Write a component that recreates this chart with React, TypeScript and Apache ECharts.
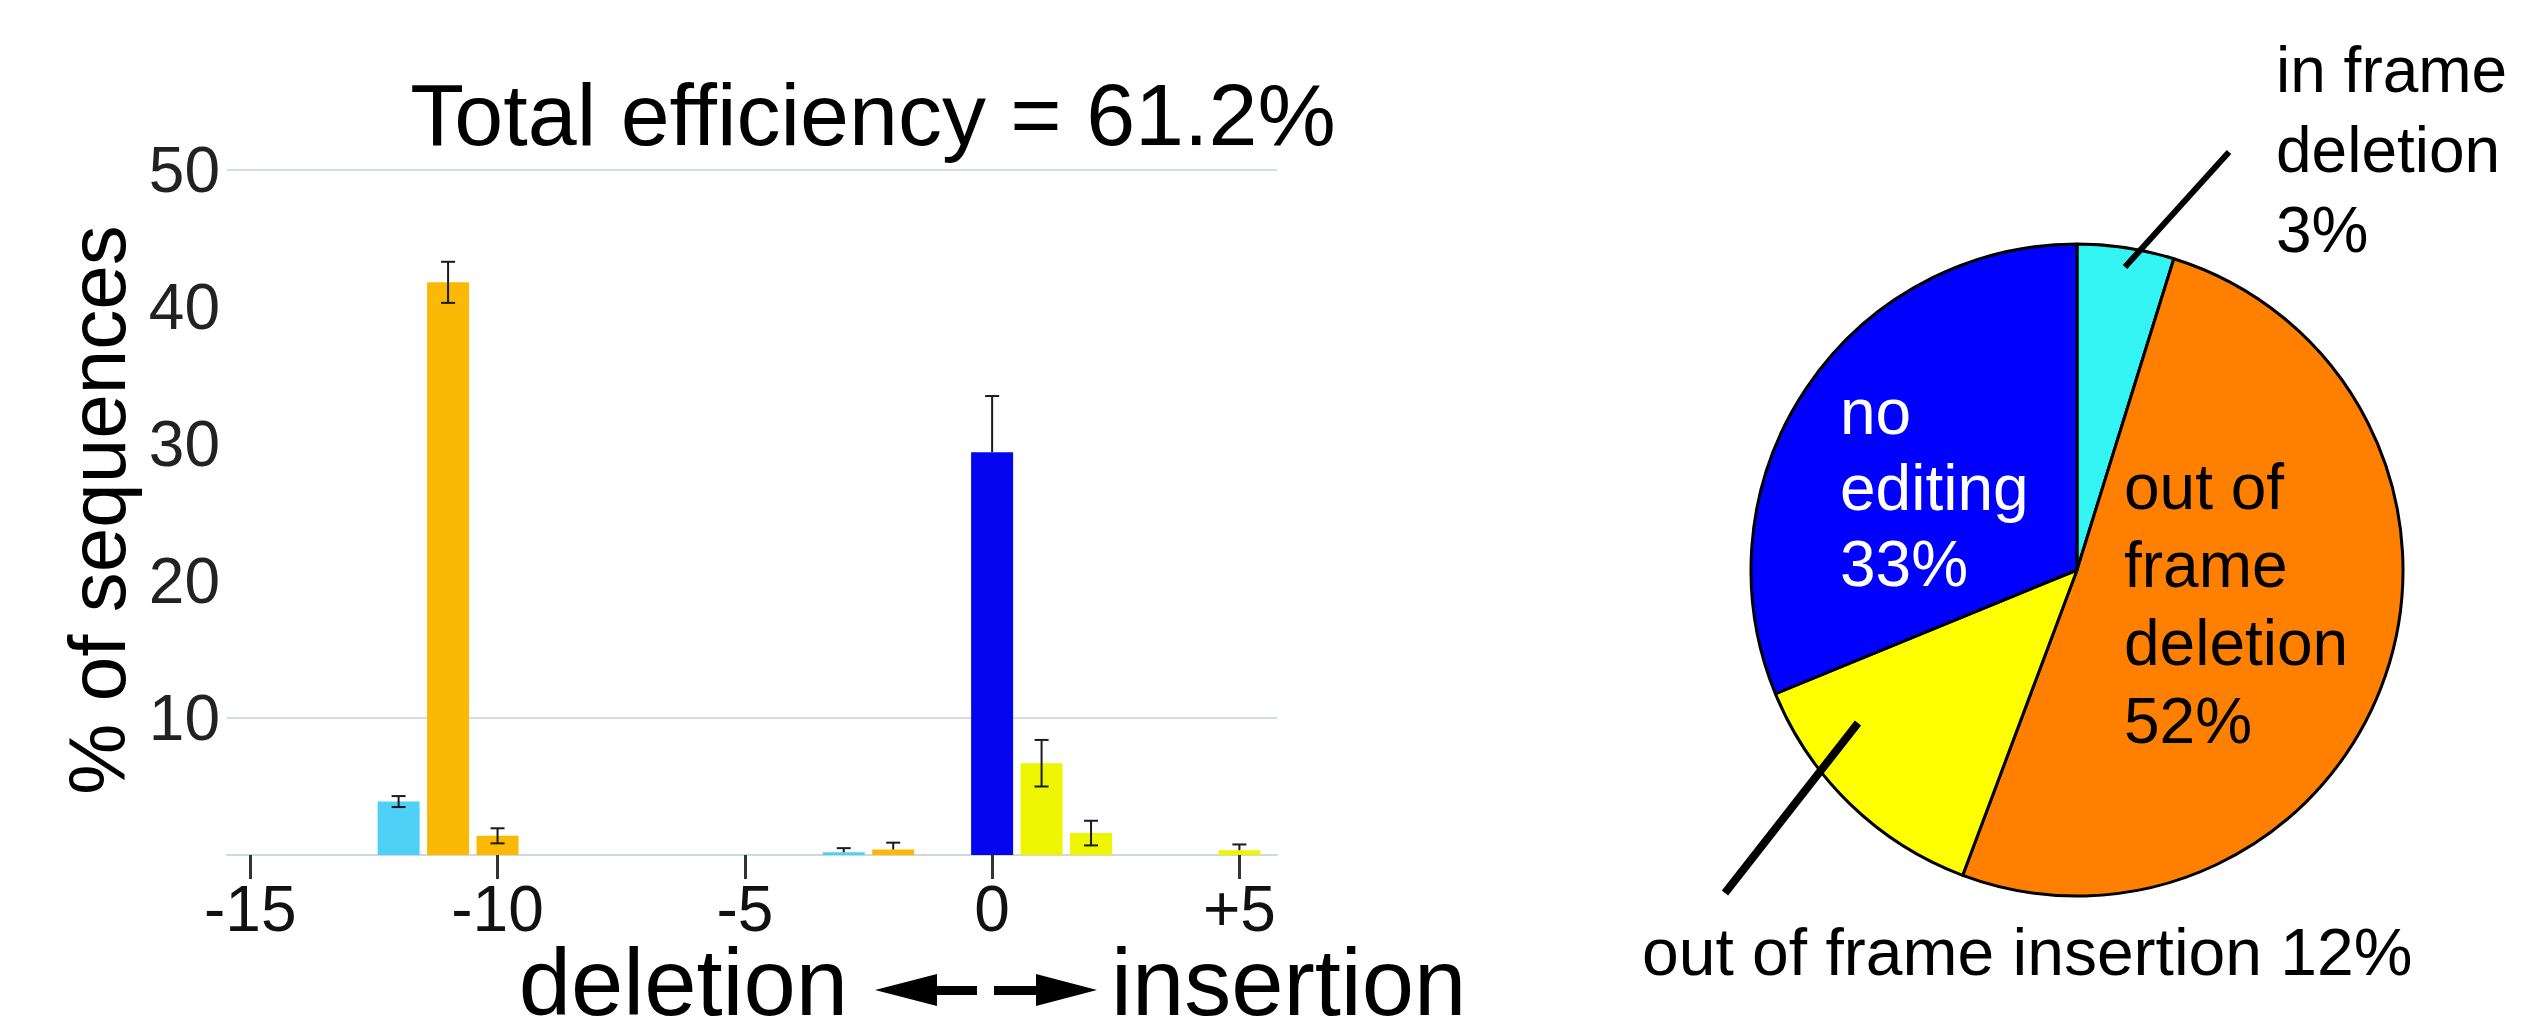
import React, { useEffect, useRef } from "react";
import * as echarts from "echarts";

// ---- data ----
const positions = [-12, -11, -10, -3, -2, 0, 1, 2, 5];
const percents = [3.9, 41.8, 1.4, 0.2, 0.4, 29.4, 6.7, 1.6, 0.35];
const errUp = [0.4, 1.5, 0.55, 0.3, 0.5, 4.1, 1.7, 0.9, 0.42];
const errDown = [0.4, 1.5, 0.55, 0, 0, 0, 1.7, 0.9, 0];
const barClass = ["inframe", "outdel", "outdel", "inframe", "outdel", "none", "ins", "ins", "ins"];
const xTicks = [-15, -10, -5, 0, 5];
const yTicks = [10, 20, 30, 40, 50];
const gridValues = [10, 50];

const pieNames = ["in frame deletion", "out of frame deletion", "out of frame insertion", "no editing"];
const pieShares = [4.8, 50.9, 13.1, 31.2];
const pieLabels = ["3%", "52%", "12%", "33%"];

const titleText = "Total efficiency = 61.2%";
const yName = "% of sequences";

const FONT = "'Liberation Sans', Arial, Helvetica, sans-serif";
const barColors: Record<string, string> = {
  inframe: "#4fd0f6",
  outdel: "#fbb905",
  ins: "#edf500",
  none: "#0505ef",
};
const pieColors = ["#33f3f3", "#ff8000", "#ffff00", "#0000ff"];

function txt(text: string, x: number, y: number, size: number, extra: any = {}, styleExtra: any = {}) {
  return {
    type: "text",
    x,
    y,
    z: 100,
    silent: true,
    ...extra,
    style: {
      text,
      fontSize: size,
      fontFamily: FONT,
      fill: "#000",
      align: "left",
      verticalAlign: "middle",
      ...styleExtra,
    },
  };
}

function buildOption() {
  const errorRender = (params: any, api: any) => {
    const x = api.value(0);
    const v = api.value(1);
    const up = api.value(2);
    const dn = api.value(3);
    const top = api.coord([x, v + up]);
    const bot = api.coord([x, v - dn]);
    const cap = 7;
    const st = { stroke: "#1a1a1a", lineWidth: 2 };
    const children: any[] = [
      { type: "line", shape: { x1: top[0], y1: top[1], x2: bot[0], y2: bot[1] }, style: st },
      { type: "line", shape: { x1: top[0] - cap, y1: top[1], x2: top[0] + cap, y2: top[1] }, style: st },
    ];
    if (dn > 0) {
      children.push({ type: "line", shape: { x1: bot[0] - cap, y1: bot[1], x2: bot[0] + cap, y2: bot[1] }, style: st });
    }
    return { type: "group", children };
  };

  const graphic: any[] = [
    txt(titleText, 873, 114, 88, {}, { align: "center" }),
    txt(yName, 97, 510, 80, { rotation: Math.PI / 2 }, { align: "center" }),
    txt("deletion", 848, 982, 94, {}, { align: "right", lineHeight: 74 }),
    txt("insertion", 1111, 982, 94, {}, { align: "left", lineHeight: 74 }),
    // arrows
    { type: "polygon", z: 100, shape: { points: [[875, 990], [937, 974], [937, 1006]] }, style: { fill: "#000" } },
    { type: "rect", z: 100, shape: { x: 935, y: 986, width: 42, height: 9 }, style: { fill: "#000" } },
    { type: "rect", z: 100, shape: { x: 994, y: 986, width: 45, height: 9 }, style: { fill: "#000" } },
    { type: "polygon", z: 100, shape: { points: [[1097, 990], [1036, 974], [1036, 1006]] }, style: { fill: "#000" } },
    // pie labels
    txt("no\nediting\n" + pieLabels[3], 1840, 488, 64, {}, { fill: "#fff", lineHeight: 76 }),
    txt("out of\nframe\ndeletion\n" + pieLabels[1], 2124, 604, 64, {}, { lineHeight: 78 }),
    txt("in frame\ndeletion\n" + pieLabels[0], 2276, 150, 64, {}, { lineHeight: 80 }),
    txt("out of frame insertion " + pieLabels[2], 1642, 952, 66),
    // leader lines
    { type: "line", z: 100, shape: { x1: 2229, y1: 152, x2: 2125, y2: 267 }, style: { stroke: "#000", lineWidth: 6 } },
    { type: "line", z: 100, shape: { x1: 1858, y1: 723, x2: 1725, y2: 893 }, style: { stroke: "#000", lineWidth: 8 } },
  ];

  return {
    animation: false,
    backgroundColor: "#ffffff",
    grid: { left: 227, right: 1244, top: 170, bottom: 167 },
    xAxis: {
      type: "value",
      min: -15.47,
      max: 5.76,
      splitLine: { show: false },
      axisLine: { show: true, onZero: false, lineStyle: { color: "#cddada", width: 2 } },
      axisTick: { show: true, customValues: xTicks, length: 24, lineStyle: { color: "#333", width: 3 } },
      axisLabel: {
        customValues: xTicks,
        formatter: (v: number) => (v > 0 ? "+" + v : String(v)),
        fontSize: 64,
        fontFamily: FONT,
        color: "#111",
        margin: 22,
      },
    },
    yAxis: {
      type: "value",
      min: 0,
      max: 50,
      axisLine: { show: false },
      axisTick: { show: false },
      splitLine: { show: false },
      axisLabel: {
        customValues: yTicks,
        fontSize: 64,
        fontFamily: FONT,
        color: "#222",
        margin: 7,
        padding: [0, 0, 10, 0],
      },
    },
    series: [
      {
        type: "bar",
        z: 2,
        barWidth: 42,
        data: positions.map((p, i) => ({
          value: [p, percents[i]],
          itemStyle: { color: barColors[barClass[i]] },
        })),
        markLine: {
          silent: true,
          z: 1,
          symbol: ["none", "none"],
          label: { show: false },
          lineStyle: { color: "#d3dede", width: 2, type: "solid" },
          data: gridValues.map((g) => ({ yAxis: g })),
        },
      },
      {
        type: "custom",
        z: 5,
        renderItem: errorRender,
        encode: { x: 0, y: 1 },
        data: positions.map((p, i) => [p, percents[i], errUp[i], errDown[i]]),
      },
      {
        type: "pie",
        center: [2077, 570],
        radius: 326,
        startAngle: 90,
        clockwise: true,
        label: { show: false },
        labelLine: { show: false },
        itemStyle: { borderColor: "#000", borderWidth: 3 },
        data: pieNames.map((n, i) => ({ name: n, value: pieShares[i], itemStyle: { color: pieColors[i] } })),
      },
    ],
    graphic,
  };
}

export default function App() {
  const ref = useRef<HTMLDivElement>(null);
  useEffect(() => {
    document.body.style.margin = "0";
    const chart = echarts.init(ref.current as HTMLDivElement, null, { renderer: "svg" });
    chart.setOption(buildOption() as any);
    return () => chart.dispose();
  }, []);
  return <div ref={ref} style={{ width: 2521, height: 1022, background: "#fff" }} />;
}
